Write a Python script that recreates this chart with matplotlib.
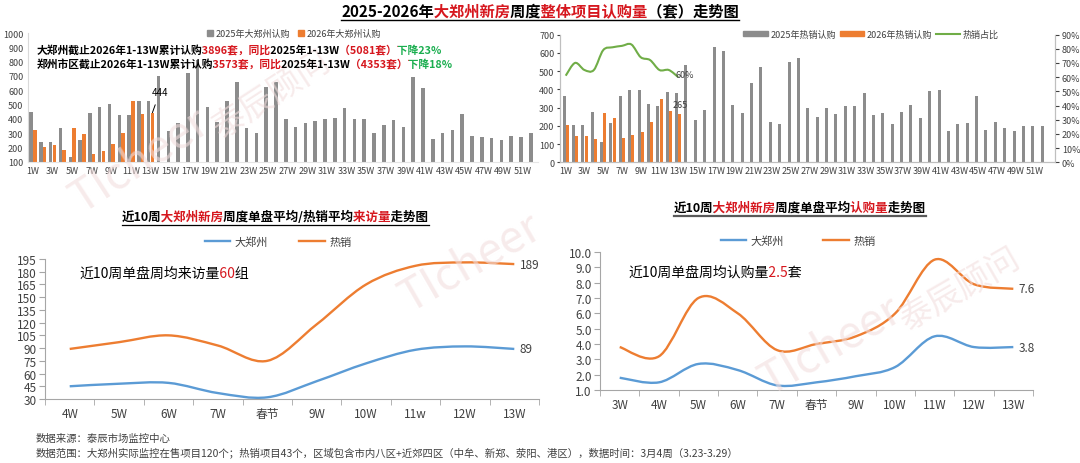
import numpy as np
import matplotlib
matplotlib.use("Agg")
import matplotlib.pyplot as plt
from matplotlib.path import Path
from matplotlib.patches import PathPatch, Patch
from matplotlib.lines import Line2D
from matplotlib.transforms import Bbox
from matplotlib.font_manager import FontProperties
from matplotlib.textpath import text_to_path

plt.rcParams["font.family"] = ["Noto Sans CJK SC", "DejaVu Sans"]
plt.rcParams["axes.unicode_minus"] = False

W, H = 1080, 464
GRAY = "#8c8c8c"
ORANGE = "#ED7D31"
GREEN = "#70AD47"
BLUE = "#5B9BD5"
RED = "#D6171E"
GRN_TXT = "#1AAE4F"
TXT = "#404040"

# ---- data: top-left, weekly subscriptions (sets) ----
weeks = np.arange(1, 53)
week_labels = [f"{w}W" for w in weeks]
zz_2025 = [452, 242, 242, 335, 135, 256, 445, 487, 505, 426,
           426, 526, 526, 701, 319, 370, 720, 810, 487, 380,
           526, 660, 335, 305, 620, 659, 398, 342, 370, 384,
           403, 408, 475, 403, 403, 305, 361, 391, 342, 694,
           615, 263, 305, 324, 433, 279, 275, 270, 251, 279,
           275, 305]
zz_2026 = [324, 207, 219, 182, 340, 293, 158, 177, 224, 300, 526, 433, 444]

# ---- data: top-right, hot projects ----
hot_2025 = [364, 204, 204, 273, 113, 213, 364, 397, 397, 317,
            311, 384, 379, 532, 231, 288, 632, 608, 313, 270,
            437, 523, 220, 211, 550, 570, 297, 249, 297, 264,
            308, 308, 382, 259, 268, 208, 273, 313, 240, 388,
            397, 173, 208, 217, 361, 177, 220, 188, 173, 197,
            197, 197]
hot_2026 = [202, 144, 144, 126, 268, 242, 135, 149, 168, 220, 344, 282, 265]
hot_share = [61, 70, 65, 65, 79, 81, 82, 83, 74, 72, 65, 65, 60]

# ---- data: bottom-left, visits per project ----
visit_weeks = ["4W", "5W", "6W", "7W", "春节", "9W", "10W", "11w", "12W", "13W"]
visit_all = [45, 48, 49, 37, 32, 51, 72, 88, 92, 89]
visit_hot = [89, 97, 105, 93, 75, 118, 165, 187, 191, 189]

# ---- data: bottom-right, subscriptions per project ----
sub_weeks = ["3W", "4W", "5W", "6W", "7W", "春节", "9W", "10W", "11W", "12W", "13W"]
sub_all = [1.8, 1.5, 2.7, 2.3, 1.3, 1.5, 1.9, 2.5, 4.5, 3.8, 3.8]
sub_hot = [3.8, 3.2, 7.0, 6.0, 3.6, 4.0, 4.5, 6.0, 9.5, 7.9, 7.6]


fig = plt.figure(figsize=(W / 100, H / 100), dpi=100)
renderer = fig.canvas.get_renderer()


def px_axes(l, t, r, b):
    ax = fig.add_axes([l / W, 1 - b / H, (r - l) / W, (b - t) / H])
    ax.set_facecolor("none")
    return ax


def smooth_path(xs, ys):
    # excel-like smoothed line: catmull-rom segments as cubic beziers
    pts = np.column_stack([xs, ys]).astype(float)
    n = len(pts)
    verts = [pts[0]]
    codes = [Path.MOVETO]
    for i in range(n - 1):
        p0 = pts[i - 1] if i > 0 else pts[i]
        p1, p2 = pts[i], pts[i + 1]
        p3 = pts[i + 2] if i + 2 < n else pts[i + 1]
        verts += [p1 + (p2 - p0) / 6, p2 - (p3 - p1) / 6, p2]
        codes += [Path.CURVE4] * 3
    return Path(verts, codes)


def glyph_x(s, size, weight):
    # pen position of every character, in output pixels
    prop = FontProperties(family=plt.rcParams["font.family"], size=size, weight=weight)
    try:
        font = text_to_path._get_font(prop)
        info, _, _ = text_to_path.get_glyphs_with_font(font, s)
        xs = [g[1] for g in info]
        if len(xs) == len(s):
            return [v * size / text_to_path.FONT_SCALE * 100 / 72 for v in xs]
    except Exception:
        pass
    out = []
    for i in range(len(s)):
        t = fig.text(0, 0, s[:i] + "|", fontsize=size, weight=weight)
        u = fig.text(0, 0, "|", fontsize=size, weight=weight)
        out.append(t.get_window_extent(renderer).width - u.get_window_extent(renderer).width)
        t.remove()
        u.remove()
    return out


def rich(x, y, parts, size, weight="normal", ha="left", underline=None):
    # whole string drawn once per colour, each copy clipped to its own piece
    full = "".join(s for s, _ in parts)
    kw = dict(fontsize=size, weight=weight, va="center", ha=ha)
    pos = (x / W, 1 - y / H)
    probe = fig.text(*pos, full, **kw)
    bb = probe.get_window_extent(renderer)
    probe.remove()
    gx = glyph_x(full, size, weight)
    starts, k = [], 0
    for s, _ in parts:
        starts.append(k)
        k += len(s)
    edges = [-1e4] + [bb.x0 + gx[i] for i in starts[1:]] + [1e4]
    for j, (s, c) in enumerate(parts):
        t = fig.text(*pos, full, color=c, **kw)
        t.set_clip_box(Bbox.from_extents(edges[j], 0, edges[j + 1], H))
        t.set_clip_on(True)
    if underline:
        uy, lw, col = underline
        fig.add_artist(Line2D([bb.x0 / W, bb.x1 / W], [1 - uy / H] * 2,
                              transform=fig.transFigure, color=col, lw=lw))


# ---------------- top-left ----------------
ax1 = px_axes(27.6, 34, 538, 163)
ax1.bar(weeks - 0.19, zz_2025, width=0.36, color=GRAY)
ax1.bar(weeks[:13] + 0.19, zz_2026, width=0.36, color=ORANGE)
ax1.set_xlim(0.45, 52.55)
ax1.set_ylim(100, 1000)
ax1.set_yticks(range(100, 1001, 100))
ax1.set_xticks(weeks[::2])
ax1.set_xticklabels(week_labels[::2])
ax1.tick_params(length=0, labelsize=6.5, colors=TXT, pad=3)
for s in ["top", "right"]:
    ax1.spines[s].set_visible(False)
ax1.spines["left"].set_color("#d9d9d9")
ax1.spines["bottom"].set_color("#e6e6e6")
ax1.annotate("444", xy=(13.19, zz_2026[-1]), xytext=(13.95, 590), fontsize=7,
             ha="center", va="center",
             arrowprops=dict(arrowstyle="-", color="black", lw=0.7, shrinkA=4, shrinkB=0))
ax1.legend(handles=[Patch(color=GRAY), Patch(color=ORANGE)],
           labels=["2025年大郑州认购", "2026年大郑州认购"],
           loc="center", bbox_to_anchor=(294 / W, 1 - 34.5 / H), bbox_transform=fig.transFigure,
           ncol=2, frameon=False, fontsize=6.5, handlelength=0.7, handleheight=0.7,
           handletextpad=0.3, columnspacing=0.8, labelcolor=TXT)

rich(37, 51, [("大郑州截止2026年1-13W累计认购", "black"), ("3896套，同比", RED),
              ("2025年1-13W", "black"), ("（5081套）", RED), ("下降23%", GRN_TXT)],
     7.75, weight="bold")
rich(37, 65, [("郑州市区截止2026年1-13W累计认购", "black"), ("3573套，同比", RED),
              ("2025年1-13W", "black"), ("（4353套）", RED), ("下降18%", GRN_TXT)],
     7.75, weight="bold")

# ---------------- top-right ----------------
ax3 = px_axes(560, 35.5, 1055, 163.3)
ax3.bar(weeks - 0.17, hot_2025, width=0.32, color=GRAY)
ax3.bar(weeks[:13] + 0.17, hot_2026, width=0.32, color=ORANGE)
ax3.set_xlim(0.39, 53.2)
ax3.set_ylim(0, 700)
ax3.set_yticks(range(0, 701, 100))
ax3.set_xticks(weeks[::2])
ax3.set_xticklabels(week_labels[::2])
ax3.tick_params(axis="x", length=0, labelsize=6.5, colors=TXT, pad=3)
ax3.tick_params(axis="y", length=2, labelsize=6.5, colors=TXT, pad=2)
ax3.annotate("265", xy=(13.17, hot_2026[-1]), xytext=(0, 7), textcoords="offset points",
             fontsize=6.5, ha="center", va="center", color=TXT)

ax4 = ax3.twinx()
ax4.set_facecolor("none")
ax4.set_ylim(0, 90)
ax4.set_yticks(range(0, 91, 10))
ax4.yaxis.set_major_formatter(lambda v, p: f"{v:.0f}%")
ax4.tick_params(axis="y", length=3, labelsize=6.5, colors=TXT, pad=2)
ax4.add_patch(PathPatch(smooth_path(weeks[:13], hot_share), fill=False, ec=GREEN, lw=1.5))
ax4.annotate("60%", xy=(13, hot_share[-1]), xytext=(5, 2), textcoords="offset points",
             fontsize=6.5, ha="center", va="center", color=TXT)
for a in (ax3, ax4):
    a.spines["top"].set_visible(False)
    for s in ["left", "right", "bottom"]:
        a.spines[s].set_color("#bfbfbf")
ax4.legend(handles=[Patch(color=GRAY), Patch(color=ORANGE), Line2D([], [], color=GREEN, lw=1.5)],
           labels=["2025年热销认购", "2026年热销认购", "热销占比"],
           loc="center", bbox_to_anchor=(871 / W, 1 - 35.5 / H), bbox_transform=fig.transFigure,
           ncol=3, frameon=False, fontsize=6.5, handlelength=2.7, handleheight=0.5,
           handletextpad=0.3, columnspacing=0.4, labelcolor=TXT)


def line_panel(ax, labels, s_all, s_hot, ylim, ystep, fmt):
    x = np.arange(len(labels))
    ax.add_patch(PathPatch(smooth_path(x, s_hot), fill=False, ec=ORANGE, lw=1.7))
    ax.add_patch(PathPatch(smooth_path(x, s_all), fill=False, ec=BLUE, lw=1.7))
    ax.set_xlim(-0.5, len(labels) - 0.5)
    ax.set_ylim(*ylim)
    ax.set_yticks(np.arange(ylim[0], ylim[1] + ystep / 2, ystep))
    ax.yaxis.set_major_formatter(lambda v, p: fmt.format(v))
    ax.set_xticks(x)
    ax.set_xticklabels(labels)
    ax.set_xticks(np.arange(-0.5, len(labels), 1), minor=True)
    ax.tick_params(axis="x", which="major", length=0, pad=6, labelsize=8.5, colors=TXT)
    ax.tick_params(axis="x", which="minor", length=4, color="#a6a6a6")
    ax.tick_params(axis="y", length=4, color="#a6a6a6", labelsize=8.5, labelcolor=TXT, pad=2)
    for s in ["top", "right"]:
        ax.spines[s].set_visible(False)
    for s in ["left", "bottom"]:
        ax.spines[s].set_color("#a6a6a6")
    for v in (s_hot[-1], s_all[-1]):
        ax.annotate(fmt.format(v), xy=(x[-1], v), xytext=(4, 0), textcoords="offset points",
                    fontsize=8.5, va="center", color=TXT)


# ---------------- bottom-left ----------------
ax5 = px_axes(45, 260, 539, 400)
line_panel(ax5, visit_weeks, visit_all, visit_hot, (30, 195), 15, "{:.0f}")
ax5.legend(handles=[Line2D([], [], color=BLUE, lw=1.7), Line2D([], [], color=ORANGE, lw=1.7)],
           labels=["大郑州", "热销"], loc="center",
           bbox_to_anchor=(278 / W, 1 - 243 / H), bbox_transform=fig.transFigure,
           ncol=2, frameon=False, fontsize=8, handlelength=2.3, handletextpad=0.4,
           columnspacing=2.8, labelcolor=TXT)
rich(275, 217, [("近10周", "black"), ("大郑州新房", RED), ("周度单盘平均/热销平均", "black"),
                ("来访量", RED), ("走势图", "black")], 9, weight="bold", ha="center",
     underline=(225.5, 0.9, "black"))
rich(79, 274, [("近10周单盘周均来访量", "black"), ("60", RED), ("组", "black")], 10)

# ---------------- bottom-right ----------------
ax6 = px_axes(600, 253, 1033, 391)
line_panel(ax6, sub_weeks, sub_all, sub_hot, (1.0, 10.0), 1.0, "{:.1f}")
ax6.legend(handles=[Line2D([], [], color=BLUE, lw=1.7), Line2D([], [], color=ORANGE, lw=1.7)],
           labels=["大郑州", "热销"], loc="center",
           bbox_to_anchor=(798 / W, 1 - 242 / H), bbox_transform=fig.transFigure,
           ncol=2, frameon=False, fontsize=8, handlelength=2.3, handletextpad=0.4,
           columnspacing=3.5, labelcolor=TXT)
rich(800, 208.5, [("近10周", "black"), ("大郑州新房", RED), ("周度单盘平均", "black"),
                  ("认购量", RED), ("走势图", "black")], 9, weight="bold", ha="center",
     underline=(216.5, 1.6, "#595959"))
rich(628, 273, [("近10周单盘周均认购量", "black"), ("2.5", RED), ("套", "black")], 10)

# ---------------- main title & footer ----------------
rich(540, 12.5, [("2025-2026年", "black"), ("大郑州新房", RED), ("周度", "black"),
                 ("整体项目认购量", RED), ("（套）走势图", "black")], 11, weight="bold",
     ha="center", underline=(21, 1.0, "black"))
fig.text(36 / W, 1 - 439 / H, "数据来源：泰辰市场监控中心", fontsize=7.5, color=TXT, va="center")
fig.text(36 / W, 1 - 453 / H,
         "数据范围：大郑州实际监控在售项目120个；热销项目43个，区域包含市内八区+近郊四区（中牟、新郑、荥阳、港区），数据时间：3月4周（3.23-3.29）",
         fontsize=7.5, color=TXT, va="center")

# ---------------- watermarks ----------------
wm = dict(color="#f2dede", alpha=0.6, ha="center", va="center", zorder=0.5)
fig.text(140 / W, 1 - 160 / H, "TIcheer", fontsize=32, rotation=33, **wm)
fig.text(272 / W, 1 - 95 / H, "泰辰顾问", fontsize=24, rotation=33, **wm)
fig.text(470 / W, 1 - 262 / H, "TIcheer", fontsize=32, rotation=30, **wm)
fig.text(830 / W, 1 - 345 / H, "TIcheer", fontsize=32, rotation=30, **wm)
fig.text(960 / W, 1 - 290 / H, "泰辰顾问", fontsize=24, rotation=30, **wm)

fig.savefig("out.png", dpi=100)
